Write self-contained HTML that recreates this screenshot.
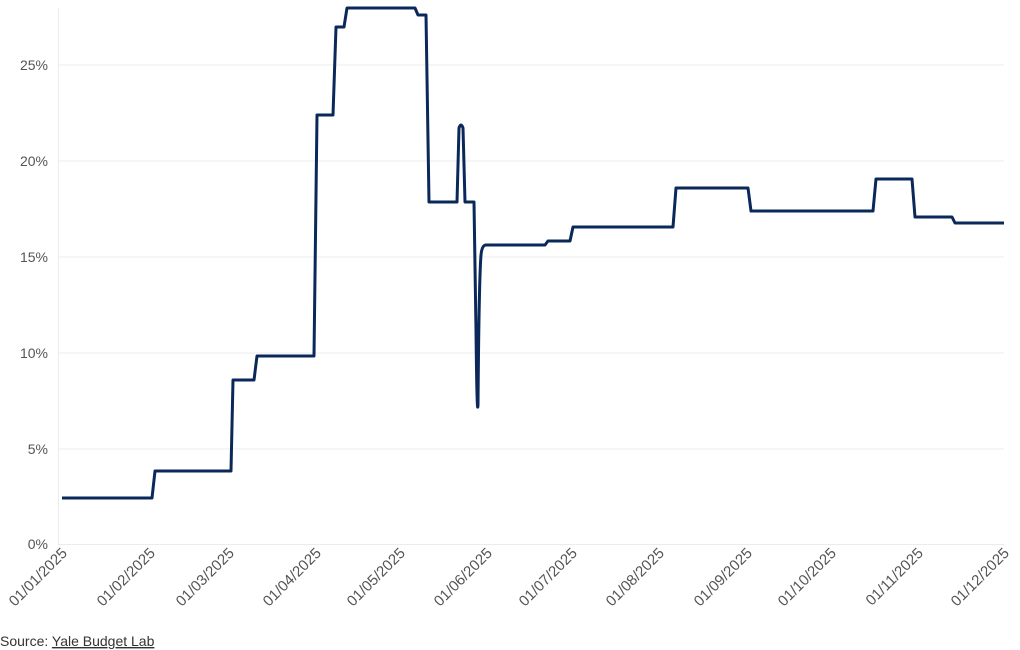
<!DOCTYPE html>
<html><head><meta charset="utf-8"><style>body{margin:0;background:#fff}svg{display:block}</style></head><body>
<svg width="1020" height="650" xmlns="http://www.w3.org/2000/svg" font-family="Liberation Sans, sans-serif">
<g stroke="#ececec" stroke-width="1">
<line x1="58" y1="65" x2="1004" y2="65"/><line x1="58" y1="161" x2="1004" y2="161"/>
<line x1="58" y1="257" x2="1004" y2="257"/><line x1="58" y1="353" x2="1004" y2="353"/>
<line x1="58" y1="449" x2="1004" y2="449"/><line x1="58" y1="544.5" x2="1004" y2="544.5"/>
<line x1="58.5" y1="8" x2="58.5" y2="544"/>
</g>
<g font-size="14" fill="#555" text-anchor="end">
<text x="48" y="70">25%</text><text x="48" y="166">20%</text><text x="48" y="262">15%</text>
<text x="48" y="358">10%</text><text x="48" y="454">5%</text><text x="48" y="549">0%</text>
</g>
<g font-size="15" fill="#555" text-anchor="end">
<text transform="translate(68,554) rotate(-45)">01/01/2025</text>
<text transform="translate(156,554) rotate(-45)">01/02/2025</text>
<text transform="translate(235,554) rotate(-45)">01/03/2025</text>
<text transform="translate(322,554) rotate(-45)">01/04/2025</text>
<text transform="translate(406,554) rotate(-45)">01/05/2025</text>
<text transform="translate(493,554) rotate(-45)">01/06/2025</text>
<text transform="translate(578,554) rotate(-45)">01/07/2025</text>
<text transform="translate(665,554) rotate(-45)">01/08/2025</text>
<text transform="translate(753,554) rotate(-45)">01/09/2025</text>
<text transform="translate(837,554) rotate(-45)">01/10/2025</text>
<text transform="translate(924,554) rotate(-45)">01/11/2025</text>
<text transform="translate(1010,554) rotate(-45)">01/12/2025</text>
</g>
<text x="0" y="646" font-size="14" fill="#333">Source: <tspan text-decoration="underline">Yale Budget Lab</tspan></text>
<path fill="none" stroke="#0a2859" stroke-width="3" stroke-linejoin="round" d="M62,498 L152,498 L155,471 L231,471 L233,380 L254,380 L257,356 L314,356 L317,115 L333,115 L336,27 L344,27 L347,8 L415,8 L418,15 L426,15 L429,202 L457,202 L459,128 Q461,122 463,128 L465,202 L474,202 L476,330 Q477,420 478,405 Q479,280 481,255 Q482,245 486,245 L545,245 L548,241 L570,241 L573,227 L673,227 L676,188 L748,188 L751,211 L873,211 L876,179 L912,179 L915,217 L952,217 L955,223 L1004,223"/>
</svg>
</body></html>
